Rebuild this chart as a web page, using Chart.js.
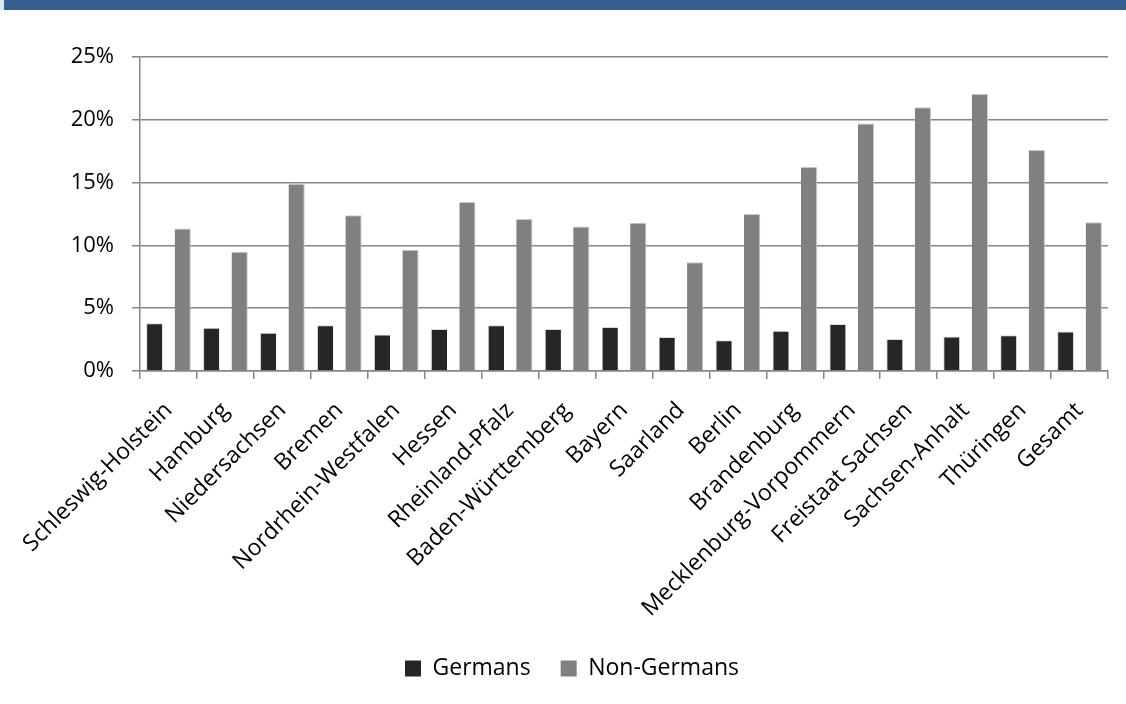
<!DOCTYPE html>
<html>
<head>
<meta charset="utf-8">
<script src="https://cdn.jsdelivr.net/npm/chart.js@4.4.1/dist/chart.umd.min.js"></script>
<style>
  html, body { margin: 0; padding: 0; background: #fff; }
  #wrap { position: relative; width: 1126px; height: 704px; overflow: hidden; }
  #band { position: absolute; left: 4px; right: 0; top: 0; height: 10px; background: #365f91; }
  #bandEdge { position: absolute; left: 0; width: 4px; top: 0; height: 10px; background: #dbe5f1; }
  canvas { position: absolute; left: 0; top: 0; }
</style>
</head>
<body>
<div id="wrap">
  <canvas id="chart" width="1126" height="704"></canvas>
  <div id="bandEdge"></div>
  <div id="band"></div>
</div>
<script>
// ---- data ----
const categories = [
  'Schleswig-Holstein', 'Hamburg', 'Niedersachsen', 'Bremen', 'Nordrhein-Westfalen',
  'Hessen', 'Rheinland-Pfalz', 'Baden-Württemberg', 'Bayern', 'Saarland', 'Berlin',
  'Brandenburg', 'Mecklenburg-Vorpommern', 'Freistaat Sachsen', 'Sachsen-Anhalt',
  'Thüringen', 'Gesamt'
];
const germans = [3.8, 3.45, 3.05, 3.65, 2.9, 3.35, 3.65, 3.35, 3.5, 2.7, 2.45, 3.2, 3.75, 2.55, 2.75, 2.85, 3.15];
const nonGermans = [11.35, 9.5, 14.9, 12.4, 9.65, 13.45, 12.1, 11.5, 11.8, 8.65, 12.5, 16.25, 19.7, 21.0, 22.05, 17.6, 11.85];
const yTicks = [0, 5, 10, 15, 20, 25];

const AXIS = '#868686';
const FONT = "'Open Sans', sans-serif";

const chart = new Chart(document.getElementById('chart'), {
  type: 'bar',
  data: {
    labels: categories,
    datasets: [
      {
        label: 'Germans',
        data: germans,
        backgroundColor: '#262626',
        borderColor: '#d9d9d9',
        borderWidth: { left: 1, right: 0, top: 1, bottom: 0 },
        categoryPercentage: 1,
        barPercentage: 0.57,
      },
      {
        label: 'Non-Germans',
        data: nonGermans,
        backgroundColor: '#808080',
        borderColor: '#c8c8c8',
        borderWidth: { left: 0, right: 1, top: 1, bottom: 0 },
        categoryPercentage: 1,
        barPercentage: 0.57,
      },
    ],
  },
  options: {
    responsive: false,
    animation: false,
    layout: { padding: { top: 57, left: 36, right: 18, bottom: 14 } },
    plugins: {
      tooltip: { enabled: false },
      legend: {
        position: 'bottom',
        labels: {
          color: '#000',
          font: { family: FONT, size: 23 },
          boxWidth: 16,
          boxHeight: 16,
          padding: 30,
          generateLabels: c => c.data.datasets.map((d, i) => ({
            text: d.label,
            fillStyle: d.backgroundColor,
            strokeStyle: d.backgroundColor,
            lineWidth: 0,
            datasetIndex: i,
            fontColor: '#000',
          })),
        },
      },
    },
    scales: {
      x: {
        grid: {
          offset: true,
          drawOnChartArea: true,
          color: ctx => (ctx.index === categories.length ? AXIS : 'rgba(0,0,0,0)'),
          tickColor: AXIS,
          tickLength: 8,
          lineWidth: 1.5,
        },
        border: { display: true, color: AXIS, width: 1.5 },
        ticks: {
          color: '#000',
          font: { family: FONT, size: 23 },
          maxRotation: 45,
          minRotation: 45,
          autoSkip: false,
          padding: 18,
        },
        afterFit: s => { s.height = 256; },
      },
      y: {
        min: 0,
        max: 25,
        afterBuildTicks: s => { s.ticks = yTicks.map(v => ({ value: v })); },
        grid: { color: AXIS, tickColor: AXIS, tickLength: 8, lineWidth: 1.5 },
        border: { display: true, color: AXIS, width: 1.5 },
        ticks: {
          color: '#000',
          font: { family: FONT, size: 22 },
          padding: 18,
          callback: v => v + '%',
        },
        afterFit: s => { s.width = 104; },
      },
    },
  },
});
</script>
</body>
</html>
